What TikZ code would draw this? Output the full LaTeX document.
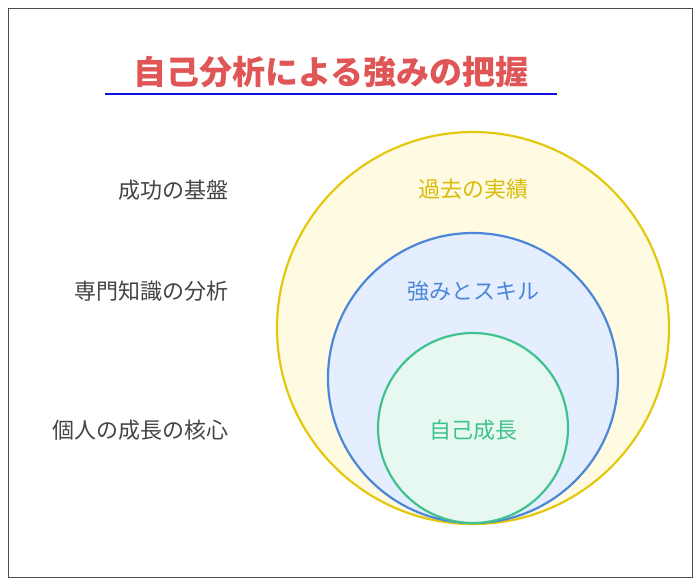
\documentclass[tikz,border=0pt]{standalone}
\usepackage{fontspec}
\setmainfont{Noto Sans CJK JP}
\newfontfamily\jpbold[BoldFont=*]{Noto Sans CJK JP Bold}
\definecolor{ttl}{HTML}{E05555}
\definecolor{uline}{HTML}{1010E0}
\definecolor{yfill}{HTML}{FFFBE3}
\definecolor{ystroke}{HTML}{E3C80E}
\definecolor{ytext}{HTML}{D9BC0A}
\definecolor{bfill}{HTML}{E5EEFF}
\definecolor{bstroke}{HTML}{4C86D6}
\definecolor{gfill}{HTML}{E6F8EF}
\definecolor{gstroke}{HTML}{40C290}
\definecolor{lbl}{HTML}{444444}
\begin{document}
\begin{tikzpicture}[x=1pt,y=-1pt,
  side/.style={anchor=east,text=lbl,font=\fontsize{22}{24}\selectfont},
  clab/.style={font=\fontsize{22}{24}\selectfont},
  circ/.style={line width=2.2pt}]
\useasboundingbox (0,0) rectangle (700,584);
\draw[line width=1pt,black!70] (8,8) rectangle (692,577);
\node[text=ttl,font=\fontsize{33}{36}\selectfont\bfseries] (title) at (331,72) {自己分析による強みの把握};
\draw[uline,line width=2.2pt] (105,94) -- (557,94);
\draw[circ,fill=yfill,draw=ystroke] (473,328) circle (196);
\draw[circ,fill=bfill,draw=bstroke] (473,378) circle (145);
\draw[circ,fill=gfill,draw=gstroke] (473,428) circle (95);
\node[clab,text=ytext] (c1) at (473,189) {過去の実績};
\node[clab,text=bstroke] (c2) at (473,291) {強みとスキル};
\node[clab,text=gstroke] (c3) at (473,430) {自己成長};
\node[side] (l1) at (232,190) {成功の基盤};
\node[side] (l2) at (232,291) {専門知識の分析};
\node[side] (l3) at (232,430) {個人の成長の核心};
\end{tikzpicture}
\end{document}
